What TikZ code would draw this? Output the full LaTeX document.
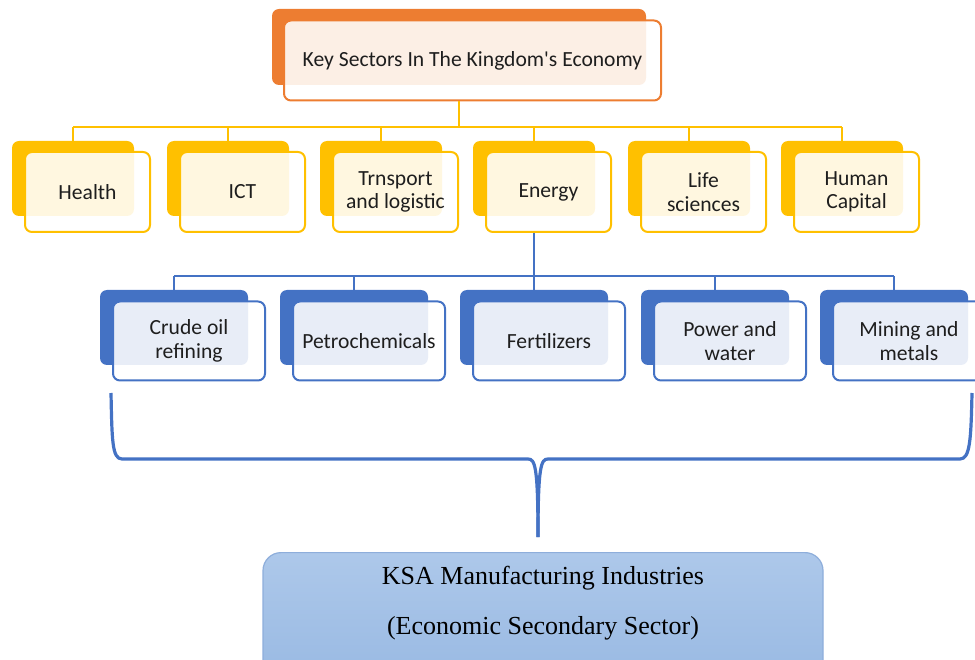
\documentclass[tikz,border=0pt]{standalone}
\usepackage{fontspec}
\setmainfont{Liberation Serif}
\newfontfamily\calib{Carlito}
\definecolor{orng}{HTML}{ED7D31}
\definecolor{yel}{HTML}{FFC000}
\definecolor{blu}{HTML}{4472C4}
\definecolor{ksatop}{HTML}{ADC8EA}
\definecolor{ksabot}{HTML}{97B8E2}
\definecolor{ksaedge}{HTML}{8EAEDB}
\definecolor{txt}{HTML}{1E1E1E}
\begin{document}
\begin{tikzpicture}[x=1pt,y=-1pt,
  backbox/.style={rectangle, rounded corners=7pt, inner sep=0pt},
  frontbox/.style={rectangle, rounded corners=7pt, draw, line width=2pt, fill=white, fill opacity=0.88, text opacity=1, align=center, text=txt, font=\calib\fontsize{21.6}{23.5}\selectfont, inner sep=0pt},
  oback/.style={backbox, fill=orng, minimum width=374pt, minimum height=76pt},
  ofront/.style={frontbox, draw=orng, minimum width=377pt, minimum height=80pt},
  yback/.style={backbox, fill=yel, minimum width=122pt, minimum height=75pt},
  yfront/.style={frontbox, draw=yel, minimum width=125pt, minimum height=80pt},
  bback/.style={backbox, fill=blu, minimum width=148pt, minimum height=75pt},
  bfront/.style={frontbox, draw=blu, minimum width=152pt, minimum height=79pt},
  yconn/.style={draw=yel, line width=2.2pt},
  bconn/.style={draw=blu, line width=2.2pt},
  brace/.style={draw=blu, line width=3.2pt, line join=round},
  ksabox/.style={rectangle, rounded corners=18pt, draw=ksaedge, line width=1.2pt, top color=ksatop, bottom color=ksabot, inner sep=0pt},
  ksatext/.style={align=center, font=\fontsize{26}{50}\selectfont, text=black}
]
\useasboundingbox (0,0) rectangle (975,660);

% top box
\node[oback] (tb) at (459,47) {};
\node[ofront] (t) at (472.5,60.5) {Key Sectors In The Kingdom's Economy};

% yellow level
\node[yback] (hb) at (73,178.5) {};
\node[yfront] (h) at (87.5,192) {Health};
\node[yback] (ib) at (228,178.5) {};
\node[yfront] (i) at (242.5,192) {ICT};
\node[yback] (trb) at (381,178.5) {};
\node[yfront] (tr) at (395.5,192) {Trnsport\\and logistic};
\node[yback] (enb) at (534,178.5) {};
\node[yfront] (en) at (548.5,192) {Energy};
\node[yback] (lsb) at (689,178.5) {};
\node[yfront] (ls) at (703.5,192) {Life\\sciences};
\node[yback] (hcb) at (842,178.5) {};
\node[yfront] (hc) at (856.5,192) {Human\\Capital};

\coordinate (ybus) at (459,127);
\draw[yconn] (t.south -| tb) -- (ybus);
\draw[yconn] (hb.north |- ybus) -- (hcb.north |- ybus);
\foreach \n in {hb,ib,trb,enb,lsb,hcb} \draw[yconn] (\n.north) -- (\n.north |- ybus);

% blue level
\node[bback] (crb) at (174,327.5) {};
\node[bfront] (cr) at (189,341) {Crude oil\\refining};
\node[bback] (pcb) at (354,327.5) {};
\node[bfront] (pc) at (369,341) {Petrochemicals};
\node[bback] (fzb) at (534,327.5) {};
\node[bfront] (fz) at (549,341) {Fertilizers};
\node[bback] (pwb) at (715,327.5) {};
\node[bfront] (pw) at (730,341) {Power and\\water};
\node[bback] (mmb) at (894,327.5) {};
\node[bfront] (mm) at (909,341) {Mining and\\metals};

\coordinate (bbus) at (534,276);
\draw[bconn] (en.south -| enb) -- (bbus);
\draw[bconn] (crb.north |- bbus) -- (mmb.north |- bbus);
\foreach \n in {crb,pcb,fzb,pwb,mmb} \draw[bconn] (\n.north) -- (\n.north |- bbus);

% brace
\coordinate (brL) at (111,393);
\coordinate (brR) at (972,393);
\coordinate (brTip) at (538,537);
\draw[brace] (brL) .. controls (112,440) and (112,459) .. (122,459) -- (528,459)
  .. controls (535,459) and (538,466) .. (brTip);
\draw[brace] (brR) .. controls (971,440) and (970,459) .. (960,459) -- (548,459)
  .. controls (541,459) and (538,466) .. (brTip);

% bottom box
\node[ksabox, anchor=north, minimum width=560pt, minimum height=140pt] (ksa) at (543,552) {};
\node[ksatext] (ksat) at (543,603) {KSA Manufacturing Industries\\(Economic Secondary Sector)};
\end{tikzpicture}
\end{document}
